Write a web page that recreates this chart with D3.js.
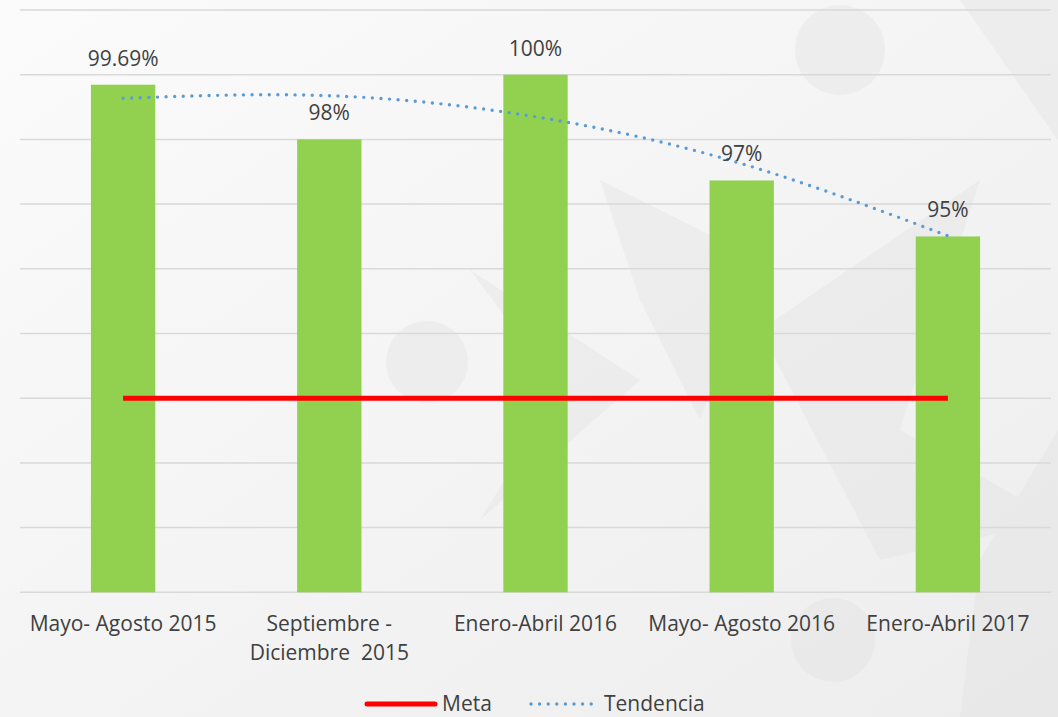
<!DOCTYPE html>
<html>
<head>
<meta charset="utf-8">
<script src="https://cdn.jsdelivr.net/npm/d3@7"></script>
<style>
  html, body { margin: 0; padding: 0; background: #f4f4f4; }
  svg { display: block; }
  text { font-family: "Open Sans", "Noto Sans", sans-serif; fill: #404040; }
</style>
</head>
<body>
<svg id="chart"></svg>
<script>
const categories = [
  "Mayo- Agosto 2015",
  "Septiembre - Diciembre  2015",
  "Enero-Abril 2016",
  "Mayo- Agosto 2016",
  "Enero-Abril 2017",
];
const categoryLines = [
  ["Mayo- Agosto 2015"],
  ["Septiembre -", "Diciembre  2015"],
  ["Enero-Abril 2016"],
  ["Mayo- Agosto 2016"],
  ["Enero-Abril 2017"],
];
const values = [99.69, 98, 100, 96.73, 95];
const valueLabels = ["99.69%", "98%", "100%", "97%", "95%"];
const meta = [90, 90, 90, 90, 90];
const trend = [99.27, 99.35, 98.7, 97.25, 95.02];
const gridTicks = [84, 86, 88, 90, 92, 94, 96, 98, 100, 102];

const width = 1058;
const height = 717;
const plotLeft = 20;
const plotRight = 1051;
const plotTop = 10;
const plotBottom = 592.3;

const svg = d3.select("#chart").attr("width", width).attr("height", height);

// background with faint watermark shapes
const defs = svg.append("defs");
const grad = defs.append("linearGradient").attr("id", "bg")
  .attr("x1", 0).attr("y1", 0).attr("x2", 1).attr("y2", 1);
grad.append("stop").attr("offset", "0%").attr("stop-color", "#fbfbfb");
grad.append("stop").attr("offset", "100%").attr("stop-color", "#ededed");
svg.append("rect").attr("width", width).attr("height", height).attr("fill", "url(#bg)");

const wm = svg.append("g").attr("fill", "#dedede").attr("opacity", 0.3);
wm.append("circle").attr("cx", 427).attr("cy", 362).attr("r", 41);
wm.append("circle").attr("cx", 833).attr("cy", 640).attr("r", 42);
wm.append("circle").attr("cx", 840).attr("cy", 50).attr("r", 45);
wm.append("polygon").attr("points", "470,270 640,380 480,520 560,390");
wm.append("polygon").attr("points", "600,180 760,260 700,420 640,300");
wm.append("polygon").attr("points", "760,330 980,180 900,430 1058,520 880,560");
wm.append("polygon").attr("points", "960,0 1058,0 1058,140");
wm.append("polygon").attr("points", "980,560 1058,430 1058,717 960,717");

const x = d3.scaleBand()
  .domain(categories)
  .range([plotLeft, plotRight])
  .paddingInner(0.688)
  .paddingOuter(0.344);

const y = d3.scaleLinear().domain([84, 102]).range([plotBottom, plotTop]);

const cx = (i) => x(categories[i]) + x.bandwidth() / 2;

// gridlines
svg.append("g")
  .selectAll("line")
  .data(gridTicks)
  .join("line")
  .attr("x1", plotLeft)
  .attr("x2", plotRight)
  .attr("y1", (d) => y(d))
  .attr("y2", (d) => y(d))
  .attr("stroke", "#d9d9d9")
  .attr("stroke-width", 1.5);

// bars
svg.append("g")
  .selectAll("rect")
  .data(values)
  .join("rect")
  .attr("x", (d, i) => x(categories[i]))
  .attr("y", (d) => y(d))
  .attr("width", x.bandwidth())
  .attr("height", (d) => y(84) - y(d))
  .attr("fill", "#92d050");

// meta line
svg.append("path")
  .datum(meta)
  .attr("fill", "none")
  .attr("stroke", "#ff0000")
  .attr("stroke-width", 5)
  .attr("d", d3.line().x((d, i) => cx(i)).y((d) => y(d)));

// trend line (dotted)
svg.append("path")
  .datum(trend)
  .attr("fill", "none")
  .attr("stroke", "#5b9bd5")
  .attr("stroke-width", 3.4)
  .attr("stroke-linecap", "round")
  .attr("stroke-dasharray", "0 8.6")
  .attr("d", d3.line().curve(d3.curveNatural).x((d, i) => cx(i)).y((d) => y(d)));

// value labels
svg.append("g")
  .selectAll("text")
  .data(values)
  .join("text")
  .attr("x", (d, i) => cx(i))
  .attr("y", (d) => y(d) - 19)
  .attr("text-anchor", "middle")
  .attr("font-size", 21)
  .text((d, i) => valueLabels[i]);

// category labels
const cat = svg.append("g")
  .selectAll("text")
  .data(categoryLines)
  .join("text")
  .attr("x", (d, i) => cx(i))
  .attr("y", 631)
  .attr("text-anchor", "middle")
  .attr("font-size", 21)
  .style("white-space", "pre");
cat.selectAll("tspan")
  .data((d) => d)
  .join("tspan")
  .attr("x", function () { return this.parentNode.getAttribute("x"); })
  .attr("dy", (d, j) => (j === 0 ? 0 : 29))
  .text((d) => d);

// legend
const legend = svg.append("g").attr("font-size", 21);
legend.append("line")
  .attr("x1", 367).attr("x2", 435).attr("y1", 704).attr("y2", 704)
  .attr("stroke", "#ff0000").attr("stroke-width", 5).attr("stroke-linecap", "round");
legend.append("text").attr("x", 442).attr("y", 711).text("Meta");
legend.append("line")
  .attr("x1", 531).attr("x2", 594).attr("y1", 704).attr("y2", 704)
  .attr("stroke", "#5b9bd5").attr("stroke-width", 3.4)
  .attr("stroke-linecap", "round").attr("stroke-dasharray", "0 8.6");
legend.append("text").attr("x", 604).attr("y", 711).text("Tendencia");
</script>
</body>
</html>
